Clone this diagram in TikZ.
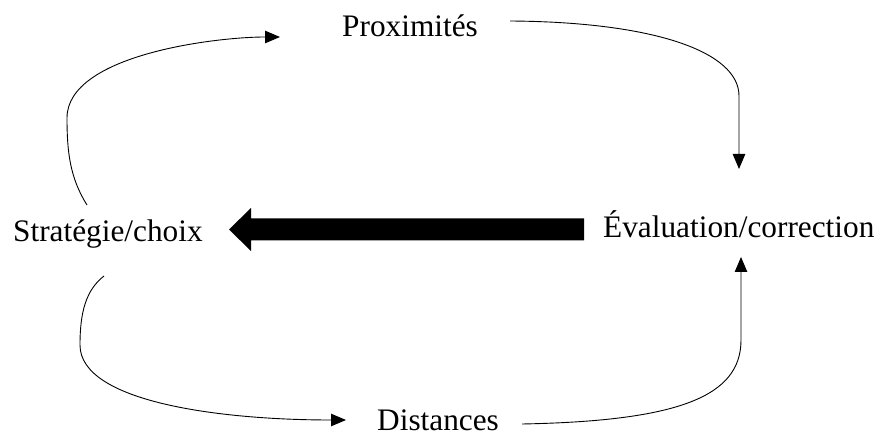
\documentclass[tikz,border=0pt]{standalone}
\usepackage{fontspec}
\setmainfont{Liberation Serif}
\usetikzlibrary{arrows.meta,calc}
\begin{document}
\begin{tikzpicture}[x=1pt,y=-1pt,
  lbl/.style={inner sep=0pt,anchor=base west,font=\fontsize{31.3}{37}\selectfont},
  flow/.style={line width=0.9pt,-{Triangle[length=15pt,width=12.5pt]}}]
\useasboundingbox (0,0) rectangle (882,435);
\node[lbl] (prox)  at (342,37)  {Proximités};
\node[lbl] (strat) at (13,242)  {Stratégie/choix};
\node[lbl] (eval)  at (603,238) {Évaluation/correction};
\node[lbl] (dist)  at (377,430.5) {Distances};
% endpoints
\coordinate (a0) at (87,205);
\coordinate (a1) at (280,37);
\coordinate (b0) at (510,21);
\coordinate (b1) at (739,169);
\coordinate (c0) at (104,276);
\coordinate (c1) at (346,420);
\coordinate (d0) at (522,424);
\coordinate (d1) at (741,257);
\draw[flow] (a0) .. controls (70,178) and (67,152) .. (67,118)
  .. controls (67,55) and (215,37) .. (a1);
\draw[flow] (b0) .. controls (655,22) and (739,52) .. (739,96) -- (b1);
\draw[flow] (c0) .. controls (86,290) and (80,312) .. (80,345)
  .. controls (80,402) and (220,420) .. (c1);
\draw[flow] (d0) .. controls (680,421) and (741,396) .. (741,340) -- (d1);
% big arrow from evaluation to strategy
\coordinate (bigtip) at (229,229.5);
\coordinate (bigend) at (584,229.5);
\fill (bigtip) -- ($(bigtip)+(22,-21.5)$) -- ($(bigtip)+(22,-11)$)
  -- ($(bigend)+(0,-11)$) -- ($(bigend)+(0,11)$)
  -- ($(bigtip)+(22,11)$) -- ($(bigtip)+(22,21.5)$) -- cycle;
\end{tikzpicture}
\end{document}
